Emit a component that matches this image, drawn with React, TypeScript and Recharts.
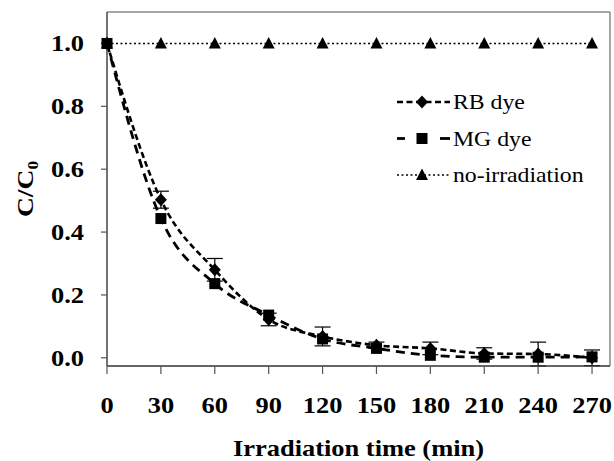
import { ErrorBar, Label, Line, LineChart, ReferenceLine, XAxis, YAxis } from "recharts";

// irradiation time (min)
const times = [0, 30, 60, 90, 120, 150, 180, 210, 240, 270];
// C/C0 values
const rbDye = [1.0, 0.503, 0.28, 0.122, 0.068, 0.04, 0.03, 0.014, 0.012, 0.0];
const rbErr = [0.0, 0.027, 0.036, 0.02, 0.03, 0.01, 0.02, 0.018, 0.038, 0.025];
const mgDye = [1.0, 0.443, 0.236, 0.136, 0.06, 0.03, 0.008, 0.002, 0.002, 0.003];
const noIrradiation = [1, 1, 1, 1, 1, 1, 1, 1, 1, 1];

const xTicks = [0, 30, 60, 90, 120, 150, 180, 210, 240, 270];
const yTicks = [0, 0.2, 0.4, 0.6, 0.8, 1.0];

const data = times.map((t, i) => ({
  t,
  rb: rbDye[i],
  rbErr: rbErr[i],
  mg: mgDye[i],
  none: noIrradiation[i],
}));

const FONT = "Liberation Serif";
const STRETCH = 1.15;

const Diamond = ({ cx, cy }: any) =>
  cx == null ? null : <path d={`M${cx},${cy - 6.5}L${cx + 6},${cy}L${cx},${cy + 6.5}L${cx - 6},${cy}Z`} fill="#000" />;
const Square = ({ cx, cy }: any) =>
  cx == null ? null : <rect x={cx - 5.5} y={cy - 5.5} width={11} height={11} fill="#000" />;
const Triangle = ({ cx, cy }: any) =>
  cx == null ? null : <path d={`M${cx},${cy - 6.5}L${cx + 6},${cy + 5}L${cx - 6},${cy + 5}Z`} fill="#000" />;

const XTick = ({ x, y, payload }: any) => (
  <g transform={`translate(${x},${y + 37})`}>
    <text transform={`scale(${STRETCH},1)`} textAnchor="middle" fontFamily={FONT} fontWeight="bold" fontSize={23} fill="#000">
      {payload.value}
    </text>
  </g>
);

const YTick = ({ x, y, payload }: any) => (
  <g transform={`translate(${x - 15},${y + 8})`}>
    <text transform={`scale(${STRETCH},1)`} textAnchor="end" fontFamily={FONT} fontWeight="bold" fontSize={23} fill="#000">
      {Number(payload.value).toFixed(1)}
    </text>
  </g>
);

const XTitle = ({ viewBox }: any) => (
  <g transform={`translate(${viewBox.x + viewBox.width / 2},${viewBox.y + 90})`}>
    <text transform={`scale(${STRETCH},1)`} textAnchor="middle" fontFamily={FONT} fontWeight="bold" fontSize={23} fill="#000">
      Irradiation time (min)
    </text>
  </g>
);

const YTitle = ({ viewBox }: any) => (
  <g transform={`translate(33,${viewBox.y + viewBox.height / 2}) rotate(-90)`}>
    <text transform={`scale(${STRETCH},1)`} textAnchor="middle" fontFamily={FONT} fontWeight="bold" fontSize={24} fill="#000">
      C/C
      <tspan fontSize={15} dy={5}>0</tspan>
    </text>
  </g>
);

const LegendRow = ({ cy, name, children }: any) => (
  <g>
    {children}
    <g transform={`translate(58,${cy + 7})`}>
      <text transform="scale(1.08,1)" fontFamily={FONT} fontSize={22} fill="#000">
        {name}
      </text>
    </g>
  </g>
);

// legend sits inside the plot frame, top right
const LegendBox = () => (
  <svg width={205} height={120} style={{ position: "absolute", left: 395, top: 82 }}>
    <LegendRow cy={20} name="RB dye">
      <line x1={2} x2={55} y1={20} y2={20} stroke="#000" strokeWidth={2.6} strokeDasharray="6 3.5" />
      <Diamond cx={27} cy={20} />
    </LegendRow>
    <LegendRow cy={56.5} name="MG dye">
      <line x1={2} x2={10} y1={56.5} y2={56.5} stroke="#000" strokeWidth={2.8} />
      <line x1={45} x2={55} y1={56.5} y2={56.5} stroke="#000" strokeWidth={2.8} />
      <Square cx={27} cy={56.5} />
    </LegendRow>
    <LegendRow cy={93} name="no-irradiation">
      <line x1={2} x2={55} y1={93} y2={93} stroke="#000" strokeWidth={1.6} strokeDasharray="2 2.5" />
      <Triangle cx={27} cy={93} />
    </LegendRow>
  </svg>
);

export default function App() {
  return (
    <div style={{ position: "absolute", left: 0, top: 0, width: 614, height: 461, background: "#fff" }}>
      <LineChart width={614} height={461} data={data} margin={{ top: 12, right: 4, bottom: 0, left: 0 }}>
        <XAxis
          dataKey="t"
          type="number"
          domain={[0, 280]}
          ticks={xTicks}
          tick={<XTick />}
          tickSize={8}
          tickLine={{ stroke: "#555", strokeWidth: 1.2 }}
          axisLine={{ stroke: "#333", strokeWidth: 1.5 }}
          height={95}
        >
          <Label content={<XTitle />} />
        </XAxis>
        <YAxis
          type="number"
          domain={[0, 1.1]}
          ticks={yTicks}
          tick={<YTick />}
          tickSize={6}
          tickLine={{ stroke: "#555", strokeWidth: 1.2 }}
          axisLine={{ stroke: "#444", strokeWidth: 1.5 }}
          width={107}
        >
          <Label content={<YTitle />} />
        </YAxis>
        <ReferenceLine y={1.1} stroke="#888" strokeWidth={1.5} />
        <ReferenceLine x={280} stroke="#888" strokeWidth={1.5} />
        <Line
          dataKey="none"
          type="linear"
          stroke="#000"
          strokeWidth={1.6}
          strokeDasharray="2 2.5"
          dot={<Triangle />}
          activeDot={false}
          isAnimationActive={false}
        />
        <Line
          dataKey="rb"
          type="monotone"
          stroke="#000"
          strokeWidth={2.6}
          strokeDasharray="6 3.5"
          dot={<Diamond />}
          activeDot={false}
          isAnimationActive={false}
        >
          <ErrorBar dataKey="rbErr" direction="y" width={8} stroke="#000" strokeWidth={1.2} />
        </Line>
        <Line
          dataKey="mg"
          type="monotone"
          stroke="#000"
          strokeWidth={2.8}
          strokeDasharray="9 6"
          dot={<Square />}
          activeDot={false}
          isAnimationActive={false}
        />
      </LineChart>
      <LegendBox />
    </div>
  );
}
